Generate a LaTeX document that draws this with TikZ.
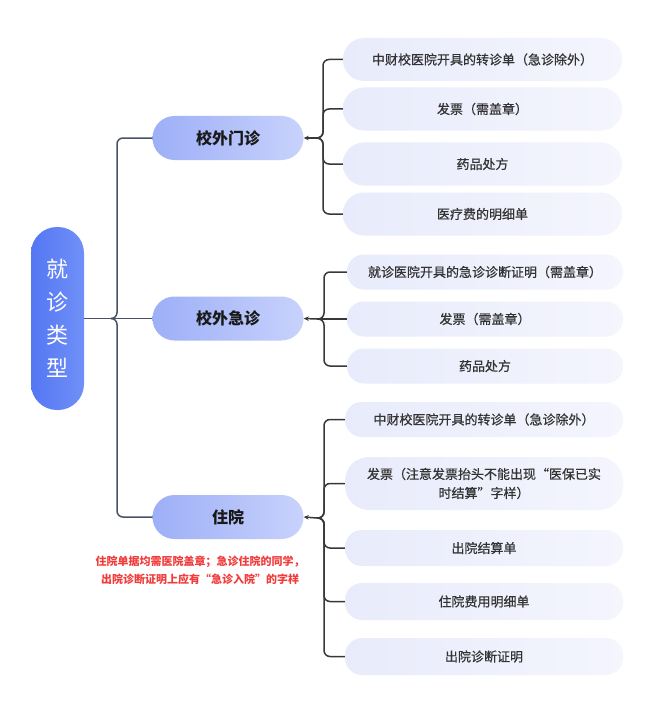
\documentclass[tikz,border=0pt]{standalone}
\usepackage{fontspec}
\setmainfont{Noto Sans CJK SC}
\newfontfamily\medfont{Noto Sans CJK SC}[RawFeature={embolden=0.6}]
\usetikzlibrary{arrows.meta}
\definecolor{rootL}{HTML}{5477F3}
\definecolor{rootR}{HTML}{7090F7}
\definecolor{lvlL}{HTML}{9DAFF7}
\definecolor{lvlR}{HTML}{C8D2FC}
\definecolor{leafL}{HTML}{E8EBFB}
\definecolor{leafR}{HTML}{F4F5FD}
\definecolor{txtgray}{HTML}{333333}
\definecolor{connc}{HTML}{383838}
\definecolor{trunkc}{HTML}{4A5266}
\definecolor{notered}{HTML}{F23B3B}
\begin{document}
\begin{tikzpicture}[x=1bp,y=-1bp,
  rootbox/.style={rectangle, rounded corners=26bp, minimum width=53bp, minimum height=183bp,
    left color=rootL, right color=rootR, text=white, align=center, inner sep=0pt,
    font=\fontsize{22bp}{33bp}\selectfont},
  lvlbox/.style={rectangle, rounded corners=22bp, minimum width=151bp, minimum height=44bp,
    left color=lvlL, right color=lvlR, text=black!90, inner sep=0pt,
    font=\fontsize{16bp}{18bp}\selectfont\bfseries},
  leafbox/.style={rectangle, rounded corners=17bp, minimum width=278bp, minimum height=35bp,
    left color=leafL, right color=leafR, text=txtgray, inner sep=0pt, align=center,
    font=\medfont\fontsize{13bp}{19bp}\selectfont},
  conn/.style={draw=connc, line width=1.5bp, rounded corners=6bp},
  trunk/.style={draw=trunkc, line width=1.5bp, rounded corners=6bp},
  arr/.style={conn, -{Stealth[length=5bp,width=4.5bp]}},
  note/.style={text=notered, align=center, font=\fontsize{11bp}{18bp}\selectfont\bfseries}
]
\useasboundingbox (0,0) rectangle (671,713);
\fill[white] (0,0) rectangle (671,713);

% root
\node[rootbox] (root) at (57.5,318.5) {就\\诊\\类\\型};

% level 1
\node[lvlbox] (n1) at (228,138) {校外门诊};
\node[lvlbox] (n2) at (228,318.5) {校外急诊};
\node[lvlbox] (n3) at (228,517) {住院};

% group 1
\node[leafbox, minimum width=279bp, minimum height=43bp, rounded corners=21bp] (c11) at (482.5,59.5) {中财校医院开具的转诊单（急诊除外）};
\node[leafbox, minimum width=279bp, minimum height=43bp, rounded corners=21bp] (c12) at (482.5,109) {发票（需盖章）};
\node[leafbox, minimum width=279bp, minimum height=43bp, rounded corners=21bp] (c13) at (482.5,164) {药品处方};
\node[leafbox, minimum width=279bp, minimum height=43bp, rounded corners=21bp] (c14) at (482.5,214) {医疗费的明细单};

% group 2
\node[leafbox, minimum width=276bp] (c21) at (485,272) {就诊医院开具的急诊诊断证明（需盖章）};
\node[leafbox, minimum width=276bp] (c22) at (485,319) {发票（需盖章）};
\node[leafbox, minimum width=276bp] (c23) at (485,366) {药品处方};

% group 3
\node[leafbox] (c31) at (484,419.5) {中财校医院开具的转诊单（急诊除外）};
\node[leafbox, minimum height=53bp, rounded corners=24bp] (c32) at (484,483.5) {发票（注意发票抬头不能出现“医保已实\\时结算”字样）};
\node[leafbox, minimum height=36bp] (c33) at (484,548) {出院结算单};
\node[leafbox, minimum height=37bp] (c34) at (484,601.5) {住院费用明细单};
\node[leafbox, minimum height=37bp] (c35) at (484,656.5) {出院诊断证明};

% note
\node[note] (nt) at (200,570) {住院单据均需医院盖章；急诊住院的同学，\\出院诊断证明上应有“急诊入院”的字样};

% junction coordinates
\coordinate (j1) at (316,138);
\coordinate (v1) at (323,138);
\coordinate (j2) at (317,319);
\coordinate (v2) at (324,319);
\coordinate (j3) at (317,518);
\coordinate (v3) at (324,518);
\coordinate (r) at (111,318.5);
\coordinate (rv) at (117,318.5);

% left trunk
\draw[trunk] (root.east) -- (n2.west);
\draw[trunk] (n1.west) -- (n1.west -| rv) |- (r);
\draw[trunk] (n3.west) -- (n3.west -| rv) |- (r);

% group 1 connectors
\foreach \c in {c11,c12,c13,c14}{\draw[conn] (\c.west) -- (\c.west -| v1) |- (j1);}
\draw[arr] (j1) -- (n1.east);
% group 2 connectors
\foreach \c in {c21,c23}{\draw[conn] (\c.west) -- (\c.west -| v2) |- (j2);}
\draw[conn] (c22.west) -- (j2);
\draw[arr] (j2) -- (n2.east);
% group 3 connectors
\foreach \c in {c31,c32,c33,c34,c35}{\draw[conn] (\c.west) -- (\c.west -| v3) |- (j3);}
\draw[arr] (j3) -- (n3.east);
\end{tikzpicture}
\end{document}
